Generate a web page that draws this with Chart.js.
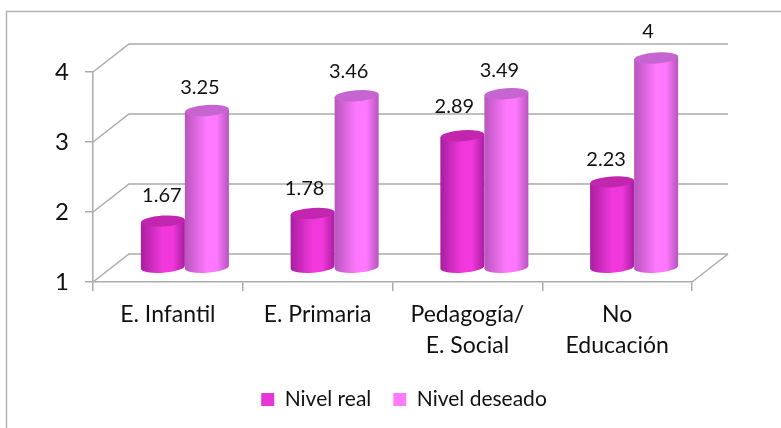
<!DOCTYPE html>
<html>
<head>
<meta charset="utf-8">
<style>
  html, body { margin: 0; padding: 0; background: #fff; }
  canvas { display: block; }
</style>
<script src="https://cdn.jsdelivr.net/npm/chart.js@4/dist/chart.umd.min.js"></script>
</head>
<body>
<canvas id="chart" width="781" height="428"></canvas>
<script>
const categories = [['E. Infantil'], ['E. Primaria'], ['Pedagogía/', 'E. Social'], ['No', 'Educación']];
const nivelReal = [1.67, 1.78, 2.89, 2.23];
const nivelDeseado = [3.25, 3.46, 3.49, 4];
const yTicks = [1, 2, 3, 4];

// per-label nudges, [dx, dy] from the top of the cylinder
const realNudge = [[-1, -26], [-8, -25], [-8, -29], [-6, -22]];
const deseadoNudge = [[-7, -23], [-8, -24], [-7, -23], [-8, -26]];

const FONT = 'Lato, "Open Sans", sans-serif';
const TEXT = '#111';
const GRID = '#ababab';
// the floor runs back by this much, cylinders stand about halfway along it
const DEPTH_X = 36, DEPTH_Y = 28;
const MID_X = 17, MID_Y = 14;

const shades = [
  { edge: '#a81ea0', mid: '#f238dd', top: '#c226ae' },
  { edge: '#b855bd', mid: '#ff78ff', top: '#c765d0' }
];

function drawCylinder(ctx, bar, shade) {
  const { x, y, base, width } = bar.getProps(['x', 'y', 'base', 'width'], true);
  const cx = x + MID_X, rx = width / 2, ry = 5.5, tilt = -0.07;
  const top = y - MID_Y, bottom = base - MID_Y;

  const grad = ctx.createLinearGradient(cx - rx, 0, cx + rx, 0);
  grad.addColorStop(0, shade.edge);
  grad.addColorStop(0.5, shade.mid);
  grad.addColorStop(0.72, shade.mid);
  grad.addColorStop(1, shade.edge);

  const dy = rx * Math.sin(tilt);
  ctx.beginPath();
  ctx.moveTo(cx - rx, top - dy);
  ctx.lineTo(cx + rx, top + dy);
  ctx.lineTo(cx + rx, bottom + dy);
  ctx.ellipse(cx, bottom, rx, ry, tilt, 0, Math.PI);
  ctx.closePath();
  ctx.fillStyle = grad;
  ctx.fill();

  ctx.beginPath();
  ctx.ellipse(cx, top, rx, ry, tilt, 0, Math.PI * 2);
  ctx.fillStyle = shade.top;
  ctx.fill();
}

const frame3d = {
  id: 'frame3d',
  beforeDraw(chart) {
    // outer chart frame, only left and top edges show
    const ctx = chart.ctx;
    ctx.save();
    ctx.strokeStyle = '#b4b4b4';
    ctx.lineWidth = 1.5;
    ctx.beginPath();
    ctx.moveTo(6.5, 428);
    ctx.lineTo(6.5, 11.5);
    ctx.lineTo(781, 11.5);
    ctx.stroke();
    ctx.restore();
  },
  beforeDatasetsDraw(chart) {
    const { ctx, chartArea: a, scales: { y } } = chart;
    ctx.save();
    ctx.strokeStyle = GRID;
    ctx.lineWidth = 1.5;
    ctx.beginPath();
    yTicks.forEach((t) => {
      const py = y.getPixelForValue(t);
      ctx.moveTo(a.left, py);
      ctx.lineTo(a.left + DEPTH_X, py - DEPTH_Y);
      ctx.lineTo(a.right + DEPTH_X, py - DEPTH_Y);
    });
    // right edge of the floor
    ctx.moveTo(a.right, a.bottom);
    ctx.lineTo(a.right + DEPTH_X, a.bottom - DEPTH_Y);
    ctx.stroke();
    ctx.restore();
  },
  beforeDatasetDraw() {
    return false; // cylinders are painted below instead of flat bars
  },
  afterDatasetsDraw(chart) {
    const ctx = chart.ctx;
    ctx.save();
    [0, 1].forEach((i) => {
      chart.getDatasetMeta(i).data.forEach((bar) => drawCylinder(ctx, bar, shades[i]));
    });
    ctx.font = '20px ' + FONT;
    ctx.fillStyle = TEXT;
    ctx.textAlign = 'center';
    ctx.textBaseline = 'middle';
    [[nivelReal, realNudge], [nivelDeseado, deseadoNudge]].forEach(([values, nudge], i) => {
      chart.getDatasetMeta(i).data.forEach((bar, j) => {
        const p = bar.getProps(['x', 'y'], true);
        ctx.fillText(String(values[j]), p.x + MID_X + nudge[j][0], p.y - MID_Y + nudge[j][1]);
      });
    });
    ctx.restore();
  },
  afterLayout(chart) {
    // legend sits right of centre and higher than its box
    const l = chart.legend;
    l.left += 58;
    l.right += 58;
    l.top -= 8;
    l.bottom -= 8;
  }
};

new Chart(document.getElementById('chart'), {
  type: 'bar',
  data: {
    labels: categories,
    datasets: [
      { label: 'Nivel real', data: nivelReal, base: 1, backgroundColor: '#e835d5', barPercentage: 1, categoryPercentage: 0.588 },
      { label: 'Nivel deseado', data: nivelDeseado, base: 1, backgroundColor: '#ff7aff', barPercentage: 1, categoryPercentage: 0.588 }
    ]
  },
  options: {
    responsive: false,
    animation: false,
    layout: { padding: { top: 72, right: 89, left: 0, bottom: 0 } },
    plugins: {
      tooltip: { enabled: false },
      legend: {
        position: 'bottom',
        labels: {
          boxWidth: 13, boxHeight: 13, padding: 22,
          color: TEXT, font: { family: FONT, size: 21 }
        }
      }
    },
    scales: {
      x: {
        grid: { drawOnChartArea: false, color: GRID, tickLength: 9, lineWidth: 1.5 },
        border: { color: GRID, width: 1.5 },
        ticks: {
          padding: 8, color: TEXT, maxRotation: 0, autoSkip: false,
          font: { family: FONT, size: 23, lineHeight: 1.35 }
        },
        afterFit(scale) { scale.height = 93; }
      },
      y: {
        min: 1, max: 4,
        grid: { drawOnChartArea: false, color: GRID, tickLength: 8, lineWidth: 1.5 },
        border: { color: GRID, width: 1.5 },
        ticks: {
          stepSize: 1, padding: 16, color: TEXT,
          font: { family: FONT, size: 24 }
        },
        afterFit(scale) { scale.width = 93; }
      }
    }
  },
  plugins: [frame3d]
});
</script>
</body>
</html>
